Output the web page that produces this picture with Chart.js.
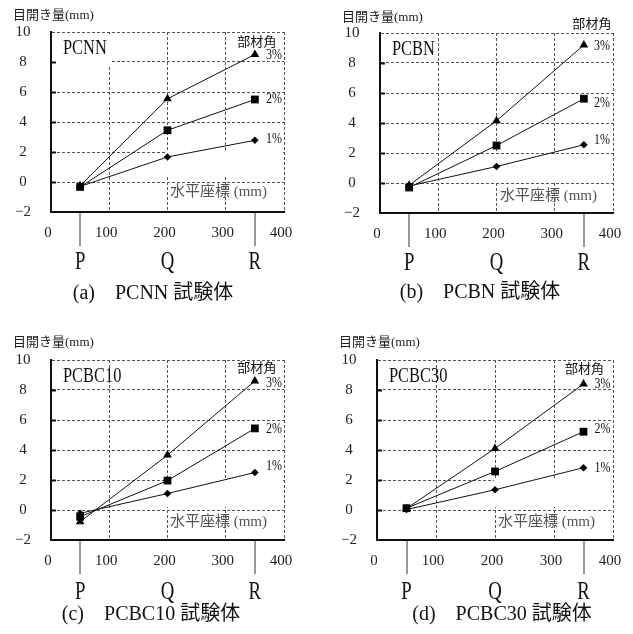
<!DOCTYPE html>
<html>
<head>
<meta charset="utf-8">
<script src="https://cdn.jsdelivr.net/npm/chart.js@4.4.1/dist/chart.umd.min.js"></script>
<style>
body { margin: 0; background: #fff; width: 633px; height: 634px; overflow: hidden; position: relative; }
canvas { position: absolute; }
</style>
</head>
<body>
<canvas id="chartA" width="316" height="306" style="left:0px; top:0px;"></canvas>
<canvas id="chartB" width="316" height="306" style="left:329px; top:1px;"></canvas>
<canvas id="chartC" width="316" height="306" style="left:0px; top:328px;"></canvas>
<canvas id="chartD" width="319" height="306" style="left:326px; top:328px;"></canvas>
<script>
// horizontal coordinate (mm) of the measuring points P, Q, R
var xPos = [50, 200, 350];
var pointNames = ['P', 'Q', 'R'];
var angleNames = ['1%', '2%', '3%'];
var yTickVals = [-2, 0, 2, 4, 6, 8, 10];

// 目開き量 (mm) at P, Q, R
var pcnn1 = [-0.3, 1.67, 2.78];
var pcnn2 = [-0.33, 3.45, 5.5];
var pcnn3 = [-0.25, 5.55, 8.5];

var pcbn1 = [-0.2, 1.1, 2.55];
var pcbn2 = [-0.3, 2.5, 5.62];
var pcbn3 = [-0.15, 4.15, 9.2];

var pcbc10_1 = [-0.22, 1.1, 2.5];
var pcbc10_2 = [-0.45, 1.96, 5.44];
var pcbc10_3 = [-0.78, 3.66, 8.6];

var pcbc30_1 = [0.03, 1.35, 2.82];
var pcbc30_2 = [0.12, 2.57, 5.22];
var pcbc30_3 = [0.1, 4.1, 8.4];

var specimenNames = ['PCNN', 'PCBN', 'PCBC10', 'PCBC30'];
var captions = ['(a)\u3000PCNN 試験体', '(b)\u3000PCBN 試験体', '(c)\u3000PCBC10 試験体', '(d)\u3000PCBC30 試験体'];

var serif = "'Liberation Serif', 'Noto Sans CJK JP', serif";

function txt(ctx, s, x, y, size, align, color, sx) {
    ctx.save();
    ctx.font = size + 'px ' + serif;
    ctx.fillStyle = color || '#111';
    ctx.textBaseline = 'middle';
    ctx.textAlign = align || 'left';
    ctx.translate(x, y);
    ctx.scale(sx || 1, 1);
    ctx.fillText(s, 0, 0);
    ctx.restore();
}

function makePlugin(p) {
    return {
        id: 'panel' + p.idx,
        beforeDatasetsDraw: function (chart) {
            var ctx = chart.ctx;
            var a = chart.chartArea;
            var xs = chart.scales.x, ys = chart.scales.y;
            ctx.save();
            ctx.fillStyle = '#fff';
            if (p.boxes) {
                // white boxes behind the specimen name and 部材角 (panel a)
                ctx.fillRect(a.left + 1, a.top + 2, 58, 31);
                ctx.fillRect(a.right - 58, a.top + 2, 57, 26);
            }
            // box behind the horizontal axis title
            ctx.fillRect(a.right - p.hx - 101, a.bottom - 52 + p.hy - 10, p.hx + 100, 27);
            ctx.restore();
            txt(ctx, specimenNames[p.idx], a.left + 12, a.top + 17, 20, 'left', '#111', 0.82);
            txt(ctx, '水平座標 (mm)', a.right - p.hx, a.bottom - 20 + p.hy, 15, 'right', '#555');
            var rx = xs.getPixelForValue(xPos[2]);
            txt(ctx, '部材角', rx + p.kx, a.top + p.ky, 13, 'center', '#111');
            for (var i = 0; i < 3; i++) {
                var yy = ys.getPixelForValue(p.series[i][2]);
                txt(ctx, angleNames[i], rx + p.lx, yy + p.dy[i], 15, 'left', '#111', 0.8);
            }
        },
        afterDraw: function (chart) {
            var ctx = chart.ctx;
            var a = chart.chartArea;
            var xs = chart.scales.x, ys = chart.scales.y;
            ctx.save();
            // inward ticks on the left axis
            ctx.strokeStyle = '#111';
            ctx.lineWidth = 2;
            yTickVals.forEach(function (v, i) {
                if (i === 0 || i === yTickVals.length - 1) return;
                var y = Math.round(ys.getPixelForValue(v)) + 0.5;
                ctx.beginPath();
                ctx.moveTo(a.left, y);
                ctx.lineTo(a.left + 5, y);
                ctx.stroke();
            });
            // lines below the axis at P and R
            ctx.strokeStyle = '#777';
            ctx.lineWidth = 1.5;
            [0, 2].forEach(function (k) {
                var x = Math.round(xs.getPixelForValue(xPos[k]));
                ctx.beginPath();
                ctx.moveTo(x, a.bottom + 1);
                ctx.lineTo(x, a.bottom + 34);
                ctx.stroke();
            });
            ctx.restore();
            for (var j = 0; j < 3; j++) {
                txt(ctx, pointNames[j], xs.getPixelForValue(xPos[j]), a.bottom + p.py, 25, 'center', '#111', 0.75);
            }
            txt(ctx, '目開き量(mm)', a.left - 38, a.top + p.ty, 13, 'left', '#222');
            txt(ctx, captions[p.idx], a.left + p.cx, a.bottom + p.cy, 20, 'center', '#111');
        }
    };
}

function pts(vals) {
    return vals.map(function (v, i) { return { x: xPos[i], y: v }; });
}

function drawPanel(id, p) {
    var ctx = document.getElementById(id);
    var w = ctx.width;
    var ds = function (vals, style, r, ord) {
        return {
            data: pts(vals),
            showLine: true,
            borderColor: '#111',
            borderWidth: 1,
            pointStyle: style,
            pointRadius: r,
            pointBackgroundColor: '#000',
            pointBorderColor: '#000',
            pointBorderWidth: 0,
            order: ord
        };
    };
    new Chart(ctx, {
        type: 'scatter',
        data: {
            datasets: [
                ds(p.series[0], 'rectRot', 3.8, 2),
                ds(p.series[1], 'rect', 5.5, 0),
                ds(p.series[2], 'triangle', 5, 1)
            ]
        },
        options: {
            responsive: false,
            animation: false,
            devicePixelRatio: 1,
            layout: { padding: { left: 0, top: 32, right: w - 51 - p.pw, bottom: 0 } },
            plugins: { legend: { display: false }, tooltip: { enabled: false } },
            scales: {
                x: {
                    type: 'linear',
                    min: 0, max: 400,
                    afterFit: function (s) { s.height = 94; },
                    ticks: { stepSize: 100, padding: 12, labelOffset: -3, color: '#222', font: { family: serif, size: 15 } },
                    grid: { color: '#555', lineWidth: 1, drawTicks: false },
                    border: { display: true, color: '#111', width: 2, dash: [3, 2] }
                },
                y: {
                    type: 'linear',
                    min: -2, max: 10,
                    afterFit: function (s) { s.width = 51; },
                    afterBuildTicks: function (s) { s.ticks = yTickVals.map(function (v) { return { value: v }; }); },
                    ticks: {
                        padding: 20, crossAlign: 'center', color: '#222', font: { family: serif, size: 15 },
                        callback: function (v) { return v < 0 ? '\u2212' + Math.abs(v) : String(v); }
                    },
                    grid: { color: '#555', lineWidth: 1, drawTicks: false },
                    border: { display: true, color: '#111', width: 2, dash: [3, 2] }
                }
            }
        },
        plugins: [makePlugin(p)]
    });
}

drawPanel('chartA', { idx: 0, pw: 233, series: [pcnn1, pcnn2, pcnn3], boxes: true,
    hx: 17, hy: 0, kx: 2, ky: 11, lx: 11, dy: [-1, 0, 1], py: 50, ty: -16, cx: 102, cy: 82 });
drawPanel('chartB', { idx: 1, pw: 233, series: [pcbn1, pcbn2, pcbn3], boxes: false,
    hx: 16, hy: 3, kx: 8, ky: -8, lx: 10, dy: [-5, 4, 1], py: 50, ty: -15, cx: 100, cy: 80 });
drawPanel('chartC', { idx: 2, pw: 233, series: [pcbc10_1, pcbc10_2, pcbc10_3], boxes: false,
    hx: 17, hy: 2, kx: 2, ky: 9, lx: 11, dy: [-6, 1, 2], py: 52, ty: -17, cx: 100, cy: 75 });
drawPanel('chartD', { idx: 3, pw: 236, series: [pcbc30_1, pcbc30_2, pcbc30_3], boxes: false,
    hx: 18, hy: 2, kx: 1, ky: 10, lx: 11, dy: [0, -3, 0], py: 52, ty: -17, cx: 125, cy: 75 });
</script>
</body>
</html>
